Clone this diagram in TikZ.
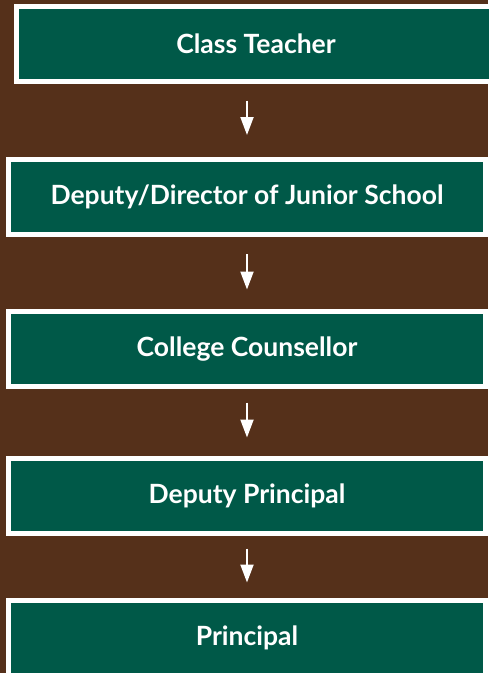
\documentclass[tikz,border=0pt]{standalone}
\usepackage{fontspec}
\setmainfont{Lato}
\usepackage{xcolor}
\usetikzlibrary{arrows.meta}
\definecolor{bgbrown}{RGB}{85,48,26}
\definecolor{boxgreen}{RGB}{0,89,72}

\begin{document}
\begin{tikzpicture}[x=1pt, y=-1pt,
% common options for the boxes:
block/.style = {draw=white, line width=5pt, fill=boxgreen, text=white,
            align=center, minimum width=477pt, minimum height=75pt, inner sep=0,
            font=\fontsize{26.5}{30}\selectfont\bfseries},
% common options for the arrows:
arr/.style = {draw=white, line width=2pt, -{Triangle[width=13pt,length=18pt]}}]
\fill[bgbrown] (0,0) rectangle (488,673);
\useasboundingbox (0,0) rectangle (488,673);

\node[block, minimum width=480pt] (ct) at (256,44) {Class Teacher};
\node[block] (djs) at (247,196.5) {Deputy/Director of Junior School};
\node[block] (cc) at (247,349) {College Counsellor};
\node[block] (dp) at (247,496) {Deputy Principal};
\node[block] (pr) at (247,638) {Principal};

\draw[arr, shorten <=16.5pt, shorten >=21.5pt] (ct.south -| djs) to (djs.north);
\draw[arr, shorten <=17.5pt, shorten >=19.5pt] (djs.south) to (cc.north);
\draw[arr, shorten <=13.5pt, shorten >=18.5pt] (cc.south) to (dp.north);
\draw[arr, shorten <=12.5pt, shorten >=15.5pt] (dp.south) to (pr.north);
\end{tikzpicture}
\end{document}
